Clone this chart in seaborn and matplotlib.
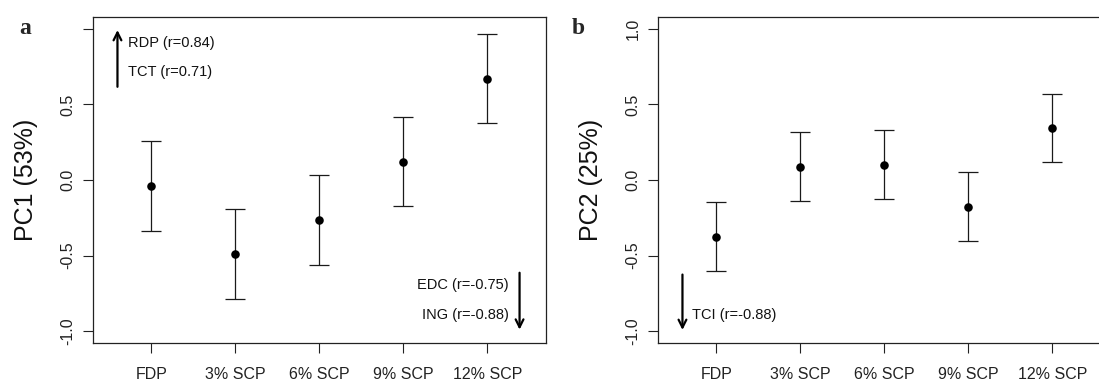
import numpy as np
import pandas as pd
import matplotlib
matplotlib.use("Agg")
import matplotlib.pyplot as plt
import seaborn as sns

# treatments on the x axis
groups = ["FDP", "3% SCP", "6% SCP", "9% SCP", "12% SCP"]

# panel a: PC1 scores (mean and interval ends)
pc1_mean = [-0.04, -0.49, -0.265, 0.12, 0.67]
pc1_low = [-0.335, -0.785, -0.56, -0.175, 0.375]
pc1_high = [0.255, -0.195, 0.035, 0.415, 0.965]

# panel b: PC2 scores
pc2_mean = [-0.375, 0.086, 0.101, -0.177, 0.344]
pc2_low = [-0.60, -0.141, -0.128, -0.401, 0.116]
pc2_high = [-0.146, 0.315, 0.328, 0.053, 0.571]

yticks = [-1.0, -0.5, 0.0, 0.5, 1.0]

sns.set_style("ticks")
plt.rcParams["font.family"] = ["Liberation Sans", "DejaVu Sans"]

fig = plt.figure(figsize=(10.99, 3.83), dpi=100)
W, H = 1099, 383
ax_a = fig.add_axes([92.7 / W, 1 - 343.3 / H, 453.3 / W, 326.6 / H])
ax_b = fig.add_axes([657.7 / W, 1 - 343.3 / H, 453.3 / W, 326.6 / H])


def draw_panel(ax, mean, low, high, ylabel, show_top_label=True):
    df = pd.DataFrame({"x": np.arange(len(groups)), "mean": mean,
                       "low": low, "high": high})
    ax.errorbar(df["x"], df["mean"],
                yerr=[df["mean"] - df["low"], df["high"] - df["mean"]],
                fmt="none", ecolor="#1a1a1a", elinewidth=0.9,
                capsize=7, capthick=0.9)
    sns.scatterplot(data=df, x="x", y="mean", ax=ax, color="black",
                    s=38, edgecolor="black", linewidth=0, zorder=3)
    ax.set_xlim(-0.7, 4.7)
    ax.set_ylim(-1.08, 1.08)
    ax.set_xticks(np.arange(len(groups)))
    ax.set_xticklabels(groups)
    ax.set_yticks(yticks)
    labels = [f"{v:.1f}" for v in yticks]
    if not show_top_label:
        labels[-1] = ""
    ax.set_yticklabels(labels)
    ax.tick_params(axis="both", length=7.5, width=0.8, colors="#222222",
                   labelsize=11.5)
    ax.tick_params(axis="x", pad=9.5)
    ax.tick_params(axis="y", pad=5)
    for t in ax.get_yticklabels():
        t.set_rotation(90)
        t.set_va("center")
    ax.set_xlabel("")
    ax.set_ylabel(ylabel, fontsize=18, color="#111111")
    ax.yaxis.label.set_va("center")
    ax.yaxis.set_label_coords(-0.147, 0.5)
    for sp in ax.spines.values():
        sp.set_visible(True)
        sp.set_linewidth(0.9)
        sp.set_color("#222222")


draw_panel(ax_a, pc1_mean, pc1_low, pc1_high, "PC1 (53%)", show_top_label=False)
draw_panel(ax_b, pc2_mean, pc2_low, pc2_high, "PC2 (25%)")

arrow = dict(arrowstyle="->", color="black", lw=1.6, mutation_scale=14)
txt = dict(fontsize=10.5, color="#111111", va="center")

# panel a loadings
ax_a.annotate("", xy=(-0.405, 1.01), xytext=(-0.405, 0.598), arrowprops=arrow)
ax_a.text(-0.28, 0.908, "RDP (r=0.84)", ha="left", **txt)
ax_a.text(-0.28, 0.713, "TCT (r=0.71)", ha="left", **txt)
ax_a.annotate("", xy=(4.385, -1.008), xytext=(4.385, -0.595), arrowprops=arrow)
ax_a.text(4.257, -0.695, "EDC (r=-0.75)", ha="right", **txt)
ax_a.text(4.257, -0.894, "ING (r=-0.88)", ha="right", **txt)

# panel b loadings
ax_b.annotate("", xy=(-0.405, -1.01), xytext=(-0.405, -0.607), arrowprops=arrow)
ax_b.text(-0.29, -0.894, "TCI (r=-0.88)", ha="left", **txt)

# panel letters
fig.text(25 / W, 1 - 29 / H, "a", fontsize=17, fontweight="bold",
         family=["Liberation Serif", "DejaVu Serif"], ha="center", va="center")
fig.text(578 / W, 1 - 28 / H, "b", fontsize=17, fontweight="bold",
         family=["Liberation Serif", "DejaVu Serif"], ha="center", va="center")

fig.savefig("out.png", dpi=100)
